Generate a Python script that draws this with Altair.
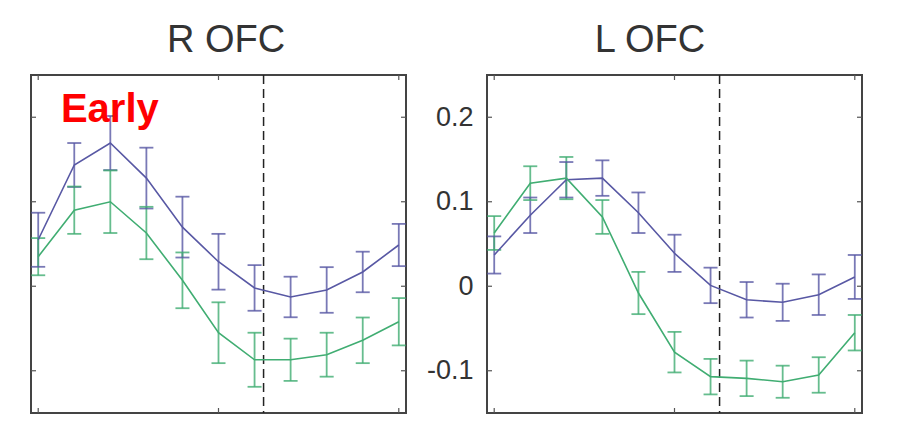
import altair as alt
import pandas as pd

# ---- data ----
time_idx = [0, 1, 2, 3, 4, 5, 6, 7, 8, 9, 10]
onset = [6.25]
y_tick_vals = [-0.1, 0.0, 0.1, 0.2]
x_tick_vals = [0, 5, 10]

r_blue = [0.055, 0.1435, 0.1695, 0.128, 0.070, 0.029, -0.002, -0.0127, -0.0044, 0.0169, 0.0488]
r_blue_err = [0.032, 0.026, 0.032, 0.036, 0.036, 0.033, 0.027, 0.024, 0.027, 0.024, 0.025]
r_green = [0.035, 0.090, 0.100, 0.063, 0.007, -0.055, -0.087, -0.087, -0.081, -0.064, -0.042]
r_green_err = [0.022, 0.028, 0.037, 0.031, 0.033, 0.036, 0.032, 0.025, 0.026, 0.027, 0.028]

l_blue = [0.037, 0.084, 0.126, 0.128, 0.087, 0.039, 0.001, -0.016, -0.019, -0.010, 0.011]
l_blue_err = [0.022, 0.021, 0.021, 0.021, 0.024, 0.022, 0.021, 0.021, 0.022, 0.024, 0.026]
l_green = [0.063, 0.122, 0.128, 0.082, -0.008, -0.078, -0.107, -0.109, -0.113, -0.105, -0.055]
l_green_err = [0.020, 0.020, 0.025, 0.020, 0.025, 0.024, 0.021, 0.021, 0.019, 0.021, 0.021]

series_names = ["blue", "green"]
series_colors = ["#5858a4", "#40ad72"]

W, H = 375, 338
FONT = "Liberation Sans"


def make_df(blue, blue_err, green, green_err):
    rows = []
    for name, vals, errs in (("blue", blue, blue_err), ("green", green, green_err)):
        for x, v, e in zip(time_idx, vals, errs):
            rows.append({"x": x, "y": v, "lo": v - e, "hi": v + e, "series": name})
    return pd.DataFrame(rows)


def panel(title, dx, blue, blue_err, green, green_err, show_labels, early):
    df = make_df(blue, blue_err, green, green_err)
    xsc = alt.Scale(domain=[-0.2, 10.2], nice=False, zero=False)
    ysc = alt.Scale(domain=[-0.15, 0.25], nice=False, zero=False)
    if show_labels:
        yax = alt.Axis(values=y_tick_vals, domain=False, ticks=False, tickSize=0, grid=False,
                       labelFont=FONT, labelFontSize=27, labelColor="#333333",
                       labelPadding=14, minExtent=60, maxExtent=60, title=None,
                       labelExpr="datum.value == 0 ? '0' : (datum.value < 0 ? '-' : '') + format(abs(datum.value), '.1f')")
    else:
        yax = None
    X = lambda f: alt.X(f, scale=xsc, axis=None)
    Y = lambda f: alt.Y(f, scale=ysc, axis=yax)
    col = alt.Color("series:N", scale=alt.Scale(domain=series_names, range=series_colors), legend=None)

    base = alt.Chart(df)
    lines = base.mark_line(strokeWidth=1.6).encode(x=X("x:Q"), y=Y("y:Q"), color=col, detail="series:N")
    bars = base.mark_rule(strokeWidth=1.8, opacity=0.8).encode(x=X("x:Q"), y=Y("lo:Q"), y2="hi:Q", color=col)
    cap_lo = base.mark_tick(orient="horizontal", size=14, thickness=1.8, opacity=0.8).encode(
        x=X("x:Q"), y=Y("lo:Q"), color=col)
    cap_hi = base.mark_tick(orient="horizontal", size=14, thickness=1.8, opacity=0.8).encode(
        x=X("x:Q"), y=Y("hi:Q"), color=col)

    dash = alt.Chart(pd.DataFrame({"x": onset})).mark_rule(
        strokeDash=[9, 5], color="#222222", strokeWidth=1.5).encode(x=X("x:Q"))

    ytdf = pd.DataFrame({"y": y_tick_vals})
    xtdf = pd.DataFrame({"x": x_tick_vals})
    tk = dict(color="#555555", strokeWidth=1.2)
    yt_l = alt.Chart(ytdf).mark_rule(**tk).encode(y=Y("y:Q"), x=alt.value(0), x2=alt.value(5))
    yt_r = alt.Chart(ytdf).mark_rule(**tk).encode(y=Y("y:Q"), x=alt.value(W - 5), x2=alt.value(W))
    xt_t = alt.Chart(xtdf).mark_rule(**tk).encode(x=X("x:Q"), y=alt.value(0), y2=alt.value(5))
    xt_b = alt.Chart(xtdf).mark_rule(**tk).encode(x=X("x:Q"), y=alt.value(H - 5), y2=alt.value(H))

    layers = [yt_l, yt_r, xt_t, xt_b, dash, bars, cap_lo, cap_hi, lines]
    if early:
        tdf = pd.DataFrame({"x": [0.63], "y": [0.194], "t": ["Early"]})
        txt = alt.Chart(tdf).mark_text(font=FONT, fontSize=40, fontWeight="bold", color="#ff0000",
                                       align="left", baseline="alphabetic").encode(
            x=X("x:Q"), y=Y("y:Q"), text="t:N")
        layers.append(txt)

    return alt.layer(*layers).properties(
        width=W, height=H,
        title=alt.TitleParams(title, font=FONT, fontSize=38, fontWeight="normal", color="#333333",
                              anchor="middle", frame="group", dx=dx, offset=14),
    )


left = panel("R OFC", 7.5, r_blue, r_blue_err, r_green, r_green_err, False, True)
right = panel("L OFC", -24.5, l_blue, l_blue_err, l_green, l_green_err, True, False)

chart = alt.hconcat(left, right, spacing=17).properties(
    padding={"left": 21, "top": 13, "right": 5, "bottom": 0},
    background="white",
).configure_view(stroke="#444444", strokeWidth=2)

chart.save("out.html", embed_options={"renderer": "svg", "actions": False})
